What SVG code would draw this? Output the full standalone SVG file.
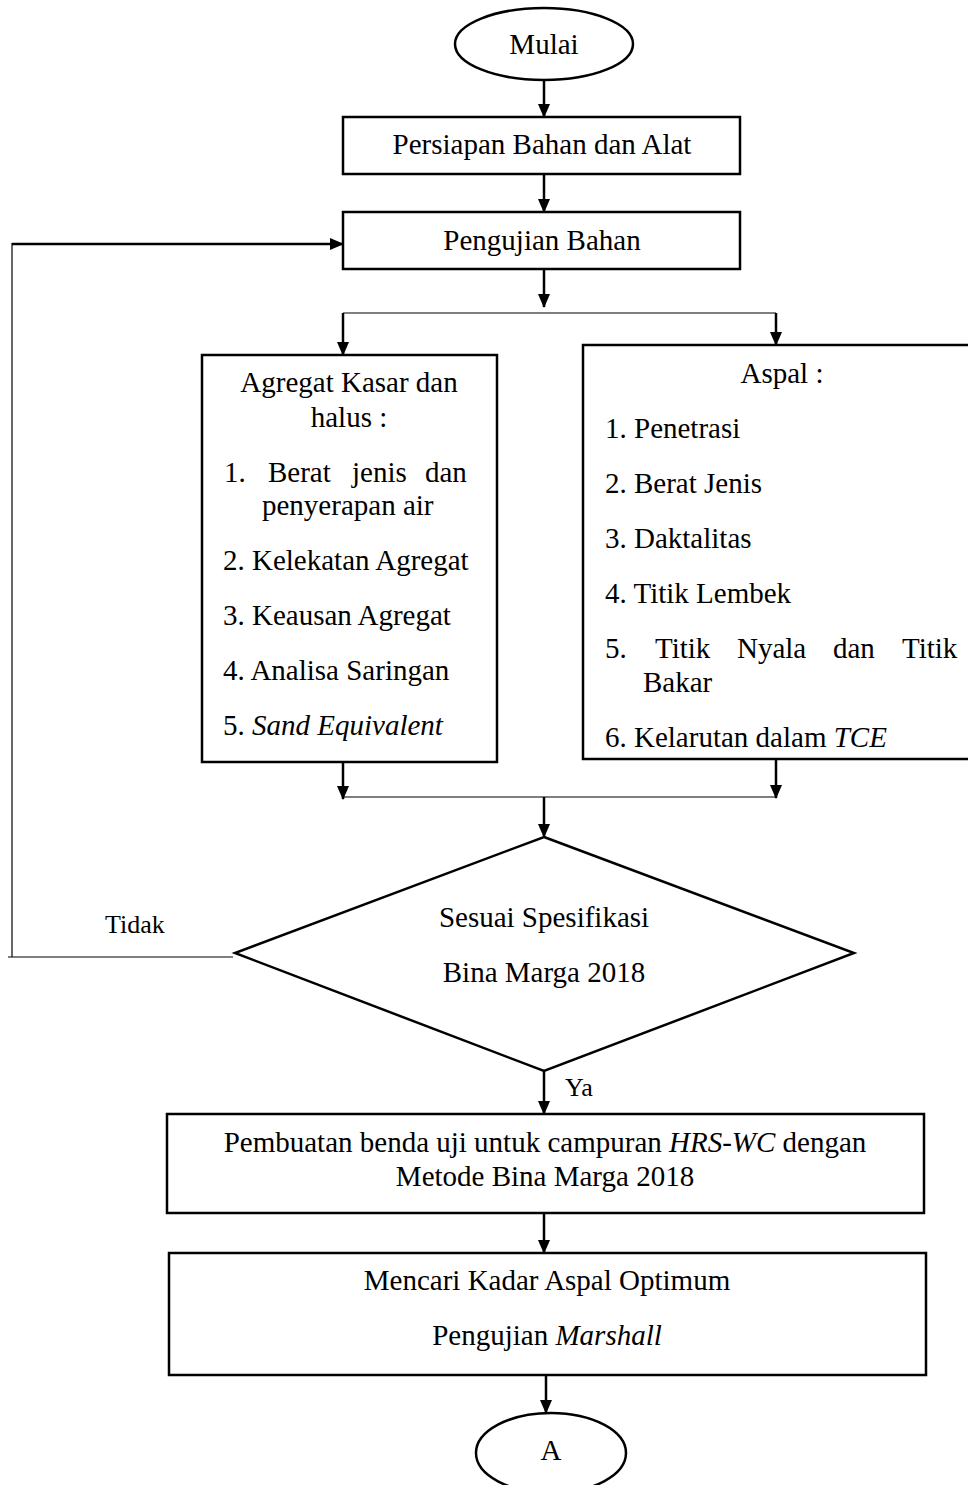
<svg xmlns="http://www.w3.org/2000/svg" width="968" height="1485" viewBox="0 0 968 1485">
<defs>
<marker id="ah" markerWidth="14" markerHeight="12" refX="13" refY="6" orient="auto" markerUnits="userSpaceOnUse">
<path d="M0,0 L14,6 L0,12 Z" fill="#000"/>
</marker>
<style>
.n{fill:#fff;stroke:#000;stroke-width:2.5}
.t{font-family:"Liberation Serif","Times New Roman",serif;font-size:29px;fill:#000}
.c{text-anchor:middle}
.s{font-size:26px}
.c2{stroke:#000;stroke-width:2.5;fill:none}
.c1{stroke:#000;stroke-width:1.2;fill:none}
</style>
</defs>
<rect width="968" height="1485" fill="#fff"/>
<g id="connectors">
<line class="c2" x1="544" y1="80" x2="544" y2="117" marker-end="url(#ah)"/>
<line class="c2" x1="544" y1="174" x2="544" y2="212" marker-end="url(#ah)"/>
<line class="c2" x1="544" y1="269" x2="544" y2="307" marker-end="url(#ah)"/>
<line class="c1" x1="343" y1="313" x2="776" y2="313"/>
<line class="c2" x1="343" y1="313" x2="343" y2="355" marker-end="url(#ah)"/>
<line class="c2" x1="776" y1="313" x2="776" y2="345" marker-end="url(#ah)"/>
<line class="c2" x1="343" y1="762" x2="343" y2="799" marker-end="url(#ah)"/>
<line class="c2" x1="776" y1="759" x2="776" y2="798" marker-end="url(#ah)"/>
<line class="c1" x1="343" y1="797" x2="776" y2="797"/>
<line class="c2" x1="544" y1="797" x2="544" y2="837" marker-end="url(#ah)"/>
<line class="c1" x1="8" y1="957" x2="233" y2="957"/>
<line class="c1" x1="12" y1="243" x2="12" y2="957"/>
<line class="c2" x1="12" y1="244" x2="343" y2="244" marker-end="url(#ah)"/>
<line class="c2" x1="544" y1="1071" x2="544" y2="1114" marker-end="url(#ah)"/>
<line class="c2" x1="544" y1="1213" x2="544" y2="1253" marker-end="url(#ah)"/>
<line class="c2" x1="546" y1="1375" x2="546" y2="1413" marker-end="url(#ah)"/>
<text class="t s" x="105" y="933">Tidak</text>
<text class="t s" x="565" y="1096">Ya</text>
</g>
<g id="mulai">
<ellipse class="n" cx="544" cy="44" rx="89" ry="36"/>
<text class="t c" x="544" y="54">Mulai</text>
</g>
<g id="persiapan">
<rect class="n" x="343" y="117" width="397" height="57"/>
<text class="t c" x="542" y="154">Persiapan Bahan dan Alat</text>
</g>
<g id="pengujian">
<rect class="n" x="343" y="212" width="397" height="57"/>
<text class="t c" x="542" y="250">Pengujian Bahan</text>
</g>
<g id="agregat">
<rect class="n" x="202" y="355" width="295" height="407"/>
<text class="t c" x="349" y="392">Agregat Kasar dan</text>
<text class="t c" x="349" y="427">halus :</text>
<text class="t" y="482"><tspan x="224">1.</tspan><tspan x="268">Berat</tspan><tspan x="352">jenis</tspan><tspan x="425">dan</tspan></text>
<text class="t" x="262" y="515">penyerapan air</text>
<text class="t" x="223" y="570">2. Kelekatan Agregat</text>
<text class="t" x="223" y="625">3. Keausan Agregat</text>
<text class="t" x="223" y="680">4. Analisa Saringan</text>
<text class="t" x="223" y="735">5. <tspan font-style="italic">Sand Equivalent</tspan></text>
</g>
<g id="aspal">
<rect class="n" x="583" y="345" width="390" height="414"/>
<text class="t c" x="782" y="383">Aspal :</text>
<text class="t" x="605" y="438">1. Penetrasi</text>
<text class="t" x="605" y="493">2. Berat Jenis</text>
<text class="t" x="605" y="548">3. Daktalitas</text>
<text class="t" x="605" y="603">4. Titik Lembek</text>
<text class="t" y="658"><tspan x="605">5.</tspan><tspan x="655">Titik</tspan><tspan x="737">Nyala</tspan><tspan x="833">dan</tspan><tspan x="902">Titik</tspan></text>
<text class="t" x="643" y="692">Bakar</text>
<text class="t" x="605" y="747">6. Kelarutan dalam <tspan font-style="italic">TCE</tspan></text>
</g>
<g id="sesuai">
<polygon class="n" points="544,837 854,953 544,1071 235,953"/>
<text class="t c" x="544" y="927">Sesuai Spesifikasi</text>
<text class="t c" x="544" y="982">Bina Marga 2018</text>
</g>
<g id="pembuatan">
<rect class="n" x="167" y="1114" width="757" height="99"/>
<text class="t c" x="545" y="1152">Pembuatan benda uji untuk campuran <tspan font-style="italic">HRS-WC</tspan> dengan</text>
<text class="t c" x="545" y="1186">Metode Bina Marga 2018</text>
</g>
<g id="mencari">
<rect class="n" x="169" y="1253" width="757" height="122"/>
<text class="t c" x="547" y="1290">Mencari Kadar Aspal Optimum</text>
<text class="t c" x="547" y="1345">Pengujian <tspan font-style="italic">Marshall</tspan></text>
</g>
<g id="a">
<ellipse class="n" cx="551" cy="1453" rx="75" ry="40"/>
<text class="t c" x="551" y="1460">A</text>
</g>
</svg>
